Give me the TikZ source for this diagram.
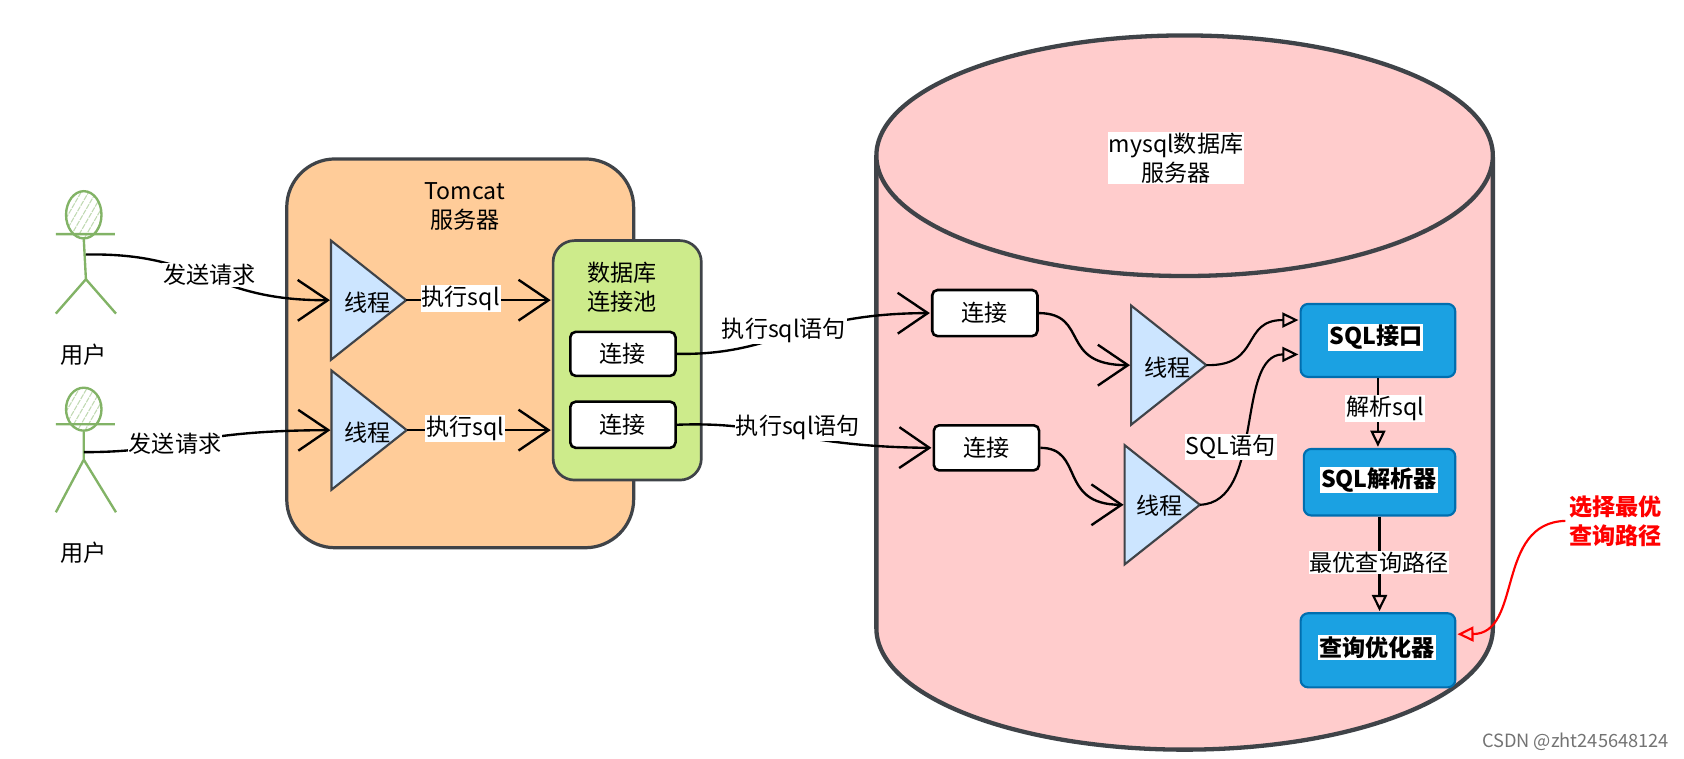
\documentclass[tikz,border=0pt]{standalone}
\usepackage{fontspec}
\setmainfont{Noto Sans CJK SC}
\usetikzlibrary{
  arrows.meta,
  patterns.meta,
  shapes.geometric,
}
\definecolor{inkgray}{HTML}{3F4348}
\definecolor{stickgreen}{HTML}{82B366}
\definecolor{tomcatfill}{HTML}{FFCC99}
\definecolor{poolfill}{HTML}{CDEB8B}
\definecolor{threadfill}{HTML}{CCE5FF}
\definecolor{mysqlfill}{HTML}{FFCCCC}
\definecolor{bluefill}{HTML}{1BA1E2}
\definecolor{bluedraw}{HTML}{006EAF}
\tikzset{
  >={Straight Barb[length=28pt,width=38pt]},
  shorten >=1pt,
  connbox/.style={draw=black,fill=white,rounded corners=5pt,line width=2.4pt,
    minimum width=98pt,minimum height=42pt,inner sep=0pt},
  thread/.style={draw=inkgray,fill=threadfill,line width=2pt,isosceles triangle,
    isosceles triangle stretches,minimum width=111pt,minimum height=70pt,inner sep=0pt,outer sep=0pt},
  bluebox/.style={draw=bluedraw,fill=bluefill,rounded corners=7pt,line width=2pt,
    minimum width=144pt,inner sep=0pt},
  lbl/.style={fill=white,inner sep=1pt},
  flow/.style={->,line width=2.2pt},
  hollow/.style={->,line width=2pt,>={Triangle[open,length=15pt,width=14pt]}},
  stick/.style={draw=stickgreen,line width=2.2pt},
}
\begin{document}
\begin{tikzpicture}[x=1pt,y=-1pt,font=\fontsize{21.5}{27}\selectfont]
  \useasboundingbox (0,0) rectangle (1568,705.8);

  \node [draw=inkgray,fill=tomcatfill,line width=3pt,rounded corners=45pt,
    minimum width=323pt,minimum height=362pt] at (428.5,329) (tomcat) {};
  \node [align=center] at (433,192) (tomcattext) {Tomcat\\服务器};

  \fill [mysqlfill,draw=inkgray,line width=4pt] (816,145) -- (816,585)
    arc [start angle=180,end angle=360,x radius=287pt,y radius=113pt] -- (1390,145);
  \draw [mysqlfill,draw=inkgray,line width=4pt,fill=mysqlfill] (1103,145)
    ellipse [x radius=287pt,y radius=112pt];
  \node [lbl,align=center] at (1095,147) (mysqltext) {mysql数据库\\服务器};

  \node [stick,pattern={Lines[angle=60,distance=6pt,line width=1pt]},pattern color=stickgreen!50,
    ellipse,minimum width=33pt,minimum height=44pt,inner sep=0pt] at (78,200) (headA) {};
  \coordinate (hipA) at (80,260);
  \coordinate (bodyA) at (80,237);
  \draw [stick] (headA.south) -- (hipA) -- (52,292) (hipA) -- (108,292) (52,218) -- (108,218);
  \node at (78,330) (userA) {用户};

  \node [stick,pattern={Lines[angle=60,distance=6pt,line width=1pt]},pattern color=stickgreen!50,
    ellipse,minimum width=33pt,minimum height=40pt,inner sep=0pt] at (78,381) (headB) {};
  \coordinate (hipB) at (78,428);
  \coordinate (bodyB) at (78,421);
  \draw [stick] (headB.south) -- (hipB) -- (52,477) (hipB) -- (108,477) (52,395) -- (108,395);
  \node at (78,515) (userB) {用户};

  \node [thread] at (335,279.5) (threadA) {};
  \node at (342,282) (threadtextA) {线程};
  \node [thread] at (335.5,400.5) (threadB) {};
  \node at (342,403) (threadtextB) {线程};

  \node [draw=inkgray,fill=poolfill,line width=2.5pt,rounded corners=20pt,
    minimum width=138pt,minimum height=223pt] at (584,335.5) (pool) {};
  \node [align=center] at (579,267) (pooltext) {数据库\\连接池};
  \node [connbox,minimum height=41pt] at (580,329.5) (poolconnA) {连接};
  \node [connbox,minimum height=43pt] at (580,395.5) (poolconnB) {连接};

  \node [connbox,minimum height=43pt] at (917,291.5) (connA) {连接};
  \node [connbox,minimum height=42pt] at (918.5,417) (connB) {连接};

  \node [thread] at (1080,340) (threadC) {};
  \node at (1087,342) (threadtextC) {线程};
  \node [thread] at (1074,470) (threadD) {};
  \node at (1080,471) (threadtextD) {线程};

  \node [bluebox,minimum height=68pt] at (1283,317) (sqlapi) {};
  \node [lbl,font=\fontsize{21.5}{27}\selectfont\bfseries] at (1281,314) (sqlapitext) {SQL接口};
  \node [bluebox,minimum width=141pt,minimum height=62pt] at (1284.5,449) (sqlparser) {};
  \node [lbl,font=\fontsize{21.5}{27}\selectfont\bfseries] at (1284,447) (sqlparsertext) {SQL解析器};
  \node [bluebox,minimum height=69pt] at (1283,605.5) (optimizer) {};
  \node [lbl,font=\fontsize{21.5}{27}\selectfont\bfseries] at (1282,603) (optimizertext) {查询优化器};

  \draw [flow] (bodyA) .. controls (190,235) and (195,280) .. (threadA.lower side);
  \draw [flow] (bodyB) .. controls (170,421) and (170,401) .. (threadB.lower side);
  \draw [flow] (threadA.apex) -- (pool.west |- threadA.apex);
  \draw [flow] (threadB.apex) -- (pool.west |- threadB.apex);
  \draw [flow] (poolconnA.east) .. controls (725,331) and (740,292) .. (connA.west);
  \draw [flow] (poolconnB.east) .. controls (720,392) and (740,416) .. (connB.west);
  \draw [flow] (connA.east) .. controls (1015,292) and (985,340) .. (threadC.lower side);
  \draw [flow] (connB.east) .. controls (1010,417) and (985,470) .. (threadD.lower side);
  \draw [hollow] (threadC.apex) .. controls (1175,341) and (1155,298) .. ([yshift=19pt]sqlapi.west);
  \draw [hollow] (threadD.apex) .. controls (1178,468) and (1150,330) .. ([yshift=-13pt]sqlapi.west);
  \draw [hollow] (sqlapi.south) -- (sqlapi.south |- sqlparser.north);
  \draw [hollow] (sqlparser.south) -- (sqlparser.south |- optimizer.north);

  \node [red,align=center,font=\fontsize{21.5}{27}\selectfont\bfseries] at (1504,485) (choosetext) {选择最优\\查询路径};
  \draw [hollow,red] (choosetext.west) .. controls (1392,487) and (1418,590) .. ([yshift=15pt]optimizer.east);

  \node [lbl] at (195,256) (sendtextA) {发送请求};
  \node [lbl] at (163,413) (sendtextB) {发送请求};
  \node [lbl] at (429,278) (runtextA) {执行sql};
  \node [lbl] at (433,399) (runtextB) {执行sql};
  \node [lbl] at (730,308) (stmttextA) {执行sql语句};
  \node [lbl] at (743,398) (stmttextB) {执行sql语句};
  \node [lbl] at (1146,416) (sqltext) {SQL语句};
  \node [lbl] at (1290,380) (parsetext) {解析sql};
  \node [lbl] at (1284,524) (pathtext) {最优查询路径};

  \node [gray!90!black,font=\fontsize{17}{20}\selectfont] at (1467,691) (watermark) {CSDN @zht245648124};
\end{tikzpicture}
\end{document}
